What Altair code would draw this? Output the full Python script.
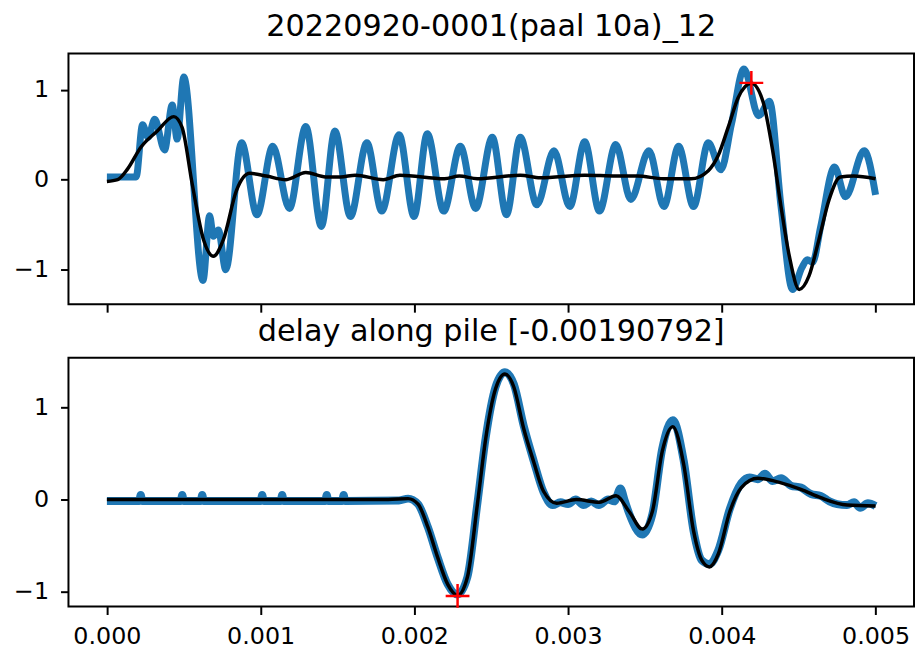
import altair as alt
import pandas as pd

TITLE_TOP = "20220920-0001(paal 10a)_12"
TITLE_BOTTOM = "delay along pile [-0.00190792]"
X_TICKS = [0.000, 0.001, 0.002, 0.003, 0.004, 0.005]
Y_TICKS = [-1, 0, 1]

# ---- top panel: raw signal (blue), smoothed (black), peak marker (red) ----
top_blue_t_ms = [0.000, 0.190, 0.232, 0.268, 0.311, 0.375, 0.425, 0.457, 0.500, 0.625,
                 0.668, 0.693, 0.725, 0.773, 0.876, 0.976, 1.079, 1.187, 1.294, 1.395,
                 1.483, 1.584, 1.691, 1.788, 1.901, 1.998, 2.084, 2.191, 2.299, 2.399,
                 2.507, 2.599, 2.689, 2.797, 2.908, 3.011, 3.108, 3.204, 3.310, 3.408,
                 3.526, 3.623, 3.719, 3.816, 3.912, 3.994, 4.063, 4.144, 4.239, 4.310,
                 4.385, 4.460, 4.520, 4.556, 4.590, 4.643, 4.733, 4.804, 4.926, 5.000]
top_blue_v = [0.03, 0.03, 0.61, 0.47, 0.67, 0.33, 0.83, 0.45, 1.14, -1.12,
              -0.40, -0.63, -0.56, -1.00, 0.41, -0.39, 0.37, -0.32, 0.59, -0.52,
              0.54, -0.41, 0.41, -0.35, 0.50, -0.41, 0.51, -0.35, 0.37, -0.32,
              0.47, -0.39, 0.47, -0.28, 0.32, -0.30, 0.42, -0.35, 0.39, -0.22,
              0.32, -0.30, 0.37, -0.30, 0.41, 0.11, 0.62, 1.23, 0.71, 0.87,
              -0.30, -1.22, -0.98, -0.89, -0.92, -0.52, 0.14, -0.19, 0.32, -0.17]

top_black_t_ms = [0.000, 0.070, 0.135, 0.221, 0.328, 0.435, 0.489, 0.554, 0.629, 0.693,
                  0.757, 0.843, 0.929, 1.037, 1.165, 1.294, 1.423, 1.520, 1.616, 1.798,
                  1.906, 2.196, 2.292, 2.410, 2.689, 2.818, 3.108, 3.312, 3.450, 3.620,
                  3.800, 3.912, 3.977, 4.041, 4.106, 4.192, 4.267, 4.331, 4.385, 4.439,
                  4.503, 4.567, 4.631, 4.696, 4.771, 4.857, 5.000]
top_black_v = [-0.02, 0.00, 0.12, 0.36, 0.54, 0.70, 0.58, -0.04, -0.67, -0.85,
               -0.67, -0.12, 0.07, 0.04, 0.00, 0.08, 0.03, 0.03, 0.05, 0.00,
               0.05, 0.01, 0.04, 0.01, 0.05, 0.02, 0.05, 0.04, 0.04, 0.01,
               0.01, 0.10, 0.27, 0.58, 0.91, 1.07, 0.87, 0.32, -0.30, -0.85,
               -1.22, -1.07, -0.67, -0.23, 0.03, 0.04, 0.01]

top_mark_t_ms = [4.192]
top_mark_v = [1.075]

# ---- bottom panel ----
bot_blue_t_ms = [0.000, 0.210, 0.220, 0.230, 0.480, 0.490, 0.500, 0.610, 0.620, 0.630,
                 1.000, 1.010, 1.020, 1.130, 1.140, 1.150, 1.420, 1.430, 1.440, 1.530,
                 1.540, 1.550, 1.900, 1.959, 2.024, 2.088, 2.152, 2.217, 2.281, 2.345,
                 2.410, 2.464, 2.528, 2.589, 2.647, 2.711, 2.776, 2.840, 2.900, 2.950,
                 3.000, 3.050, 3.100, 3.150, 3.200, 3.260, 3.300, 3.340, 3.370, 3.397,
                 3.483, 3.548, 3.612, 3.681, 3.752, 3.816, 3.870, 3.919, 3.977, 4.052,
                 4.127, 4.180, 4.234, 4.280, 4.330, 4.385, 4.450, 4.514, 4.580, 4.643,
                 4.700, 4.750, 4.814, 4.860, 4.900, 4.950, 5.000]
bot_blue_v = [-0.015, -0.015, 0.05, -0.015, -0.015, 0.05, -0.015, -0.015, 0.05, -0.015,
              -0.015, 0.05, -0.015, -0.015, 0.05, -0.015, -0.015, 0.05, -0.015, -0.015,
              0.05, -0.015, -0.01, 0.01, -0.05, -0.30, -0.63, -0.92, -1.03, -0.84,
              -0.04, 0.67, 1.22, 1.38, 1.25, 0.80, 0.42, 0.08, -0.06, -0.03,
              -0.05, 0.00, -0.06, -0.02, -0.06, 0.00, -0.02, 0.12, -0.02, -0.15,
              -0.38, -0.16, 0.55, 0.86, 0.42, -0.34, -0.66, -0.70, -0.55, -0.10,
              0.18, 0.24, 0.22, 0.28, 0.20, 0.23, 0.15, 0.13, 0.06, 0.04,
              -0.02, -0.05, -0.06, -0.03, -0.09, -0.04, -0.07]

bot_black_t_ms = [0.000, 1.500, 1.830, 1.959, 2.024, 2.088, 2.152, 2.217, 2.281, 2.345,
                  2.410, 2.464, 2.528, 2.589, 2.647, 2.711, 2.776, 2.840, 2.926, 3.054,
                  3.204, 3.312, 3.397, 3.483, 3.548, 3.612, 3.681, 3.752, 3.816, 3.870,
                  3.919, 3.977, 4.052, 4.127, 4.234, 4.385, 4.514, 4.643, 4.814, 5.000]
bot_black_v = [0.00, 0.00, 0.00, 0.01, -0.05, -0.30, -0.63, -0.92, -1.04, -0.84,
               -0.05, 0.66, 1.20, 1.36, 1.22, 0.77, 0.41, 0.09, -0.04, 0.00,
               -0.03, 0.04, -0.13, -0.32, -0.13, 0.52, 0.79, 0.38, -0.34, -0.66,
               -0.73, -0.59, -0.13, 0.13, 0.23, 0.18, 0.11, 0.02, -0.06, -0.07]

bot_mark_t_ms = [2.281]
bot_mark_v = [-1.045]

FONT = "DejaVu Sans"
BLUE = "#1f77b4"


def frame(t_ms, v):
    return pd.DataFrame({"t": [a / 1000.0 for a in t_ms], "v": v})


def x_enc(show_labels):
    return alt.X(
        "t:Q",
        scale=alt.Scale(domain=[-0.00025, 0.00525], nice=False, zero=False),
        axis=alt.Axis(values=X_TICKS, format=".3f", labels=show_labels, title=None,
                      grid=False, domain=False, tickSize=8, tickWidth=2, tickColor="black",
                      labelFont=FONT, labelFontSize=24, labelColor="black",
                      labelPadding=10, labelFlush=False),
    )


def y_enc(domain):
    return alt.Y(
        "v:Q",
        scale=alt.Scale(domain=domain, nice=False, zero=False),
        axis=alt.Axis(values=Y_TICKS, title=None, grid=False, domain=False,
                      tickSize=8, tickWidth=2, tickColor="black",
                      labelFont=FONT, labelFontSize=24, labelColor="black",
                      labelPadding=12, minExtent=59.5, maxExtent=59.5,
                      labelExpr="datum.value < 0 ? '\u2212' + format(abs(datum.value), 'd') : format(datum.value, 'd')"),
    )


PLUS = "M-1,0L1,0M0,-1L0,1"


def panel(blue_df, black_df, mark_df, ydom, show_labels, title, offset, height, blue_w):
    x = x_enc(show_labels)
    y = y_enc(ydom)
    blue = alt.Chart(blue_df).mark_line(color=BLUE, strokeWidth=blue_w, interpolate="monotone").encode(x=x, y=y)
    black = alt.Chart(black_df).mark_line(color="black", strokeWidth=3.5, interpolate="monotone").encode(x=x, y=y)
    plus = alt.Chart(mark_df).mark_point(shape=PLUS, size=576, filled=False, stroke="#ff0000",
                                         strokeWidth=2.5, opacity=1).encode(x=x, y=y)
    return alt.layer(blue, black, plus).properties(
        width=853, height=height,
        title=alt.TitleParams(text=title, font=FONT, fontSize=30.5, fontWeight="normal",
                              color="black", anchor="middle", baseline="alphabetic",
                              offset=offset),
    )


top = panel(frame(top_blue_t_ms, top_blue_v), frame(top_black_t_ms, top_black_v),
            frame(top_mark_t_ms, top_mark_v), [-1.384, 1.402], False, TITLE_TOP, -13, 253, 7)
bottom = panel(frame(bot_blue_t_ms, bot_blue_v), frame(bot_black_t_ms, bot_black_v),
               frame(bot_mark_t_ms, bot_mark_v), [-1.16, 1.537], True, TITLE_BOTTOM, -15, 251, 8)

chart = alt.vconcat(top, bottom, spacing=2).properties(
    padding={"left": 0, "top": 0, "right": 0, "bottom": 0}
).configure_view(stroke="black", strokeWidth=2)

chart.save("out.html", embed_options={"renderer": "svg", "actions": False})
